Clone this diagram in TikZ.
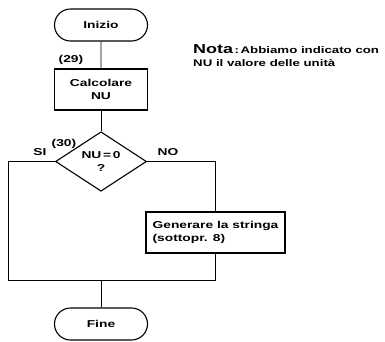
\documentclass[tikz,border=0pt]{standalone}
\usepackage{fontspec}
\setmainfont{Liberation Sans}[FakeStretch=1.38]
\usetikzlibrary{shapes.geometric,shapes.misc}
\tikzset{
  x=1pt, y=-1pt,
  every node/.style={font=\bfseries\fontsize{10}{13.5}\selectfont, inner sep=0pt},
  flow/.style={line width=1.1pt},
  term/.style={flow, draw, rounded rectangle, minimum width=93pt, minimum height=32pt},
  proc/.style={flow, draw, rectangle, minimum height=41pt},
  test/.style={flow, draw, diamond, minimum width=91pt, minimum height=49pt, align=center},
  lbl/.style={font=\bfseries\fontsize{10}{12}\selectfont},
  wire/.style={line width=0.9pt}
}
\begin{document}
\begin{tikzpicture}
\useasboundingbox (0,0) rectangle (385,341);

% terminals and process boxes
\node[term] (start) at (101,25) {Inizio};
\node[proc, minimum width=93pt, align=center] (calc) at (101,89.5) {Calcolare\\NU};
\node[test] (dec) at (101,161.5) {NU\,=\,0\\?};
\node[proc, minimum width=139pt, align=left] (gen) at (215.5,232.5) {Generare la stringa\\(sottopr. 8)};
\node[term] (fine) at (101,324) {Fine};

% step numbers and branch labels
\node[lbl] (n29) at (71,60) {(29)};
\node[lbl] (n30) at (64,144) {(30)};
\node[lbl] (si) at (40,152) {SI};
\node[lbl] (no) at (168,152) {NO};

% note
\node[anchor=west, align=left, font=\bfseries\fontsize{9.6}{13}\selectfont] (nota) at (193,56)
  {{\fontsize{13}{13}\selectfont Nota}\,:\,Abbiamo indicato con\\NU il valore delle unità};

% junction points
\coordinate (jl) at (8,280);
\coordinate (jr) at (215.5,280);
\coordinate (jm) at (101,280);

% connectors
\draw[wire] (start) -- (calc);
\draw[wire] (calc) -- (dec);
\draw[wire] (dec.west) -| (jl) -- (jr);
\draw[wire] (dec.east) -| (gen.north);
\draw[wire] (gen.south) -- (jr);
\draw[wire] (jm) -- (fine);
\end{tikzpicture}
\end{document}
